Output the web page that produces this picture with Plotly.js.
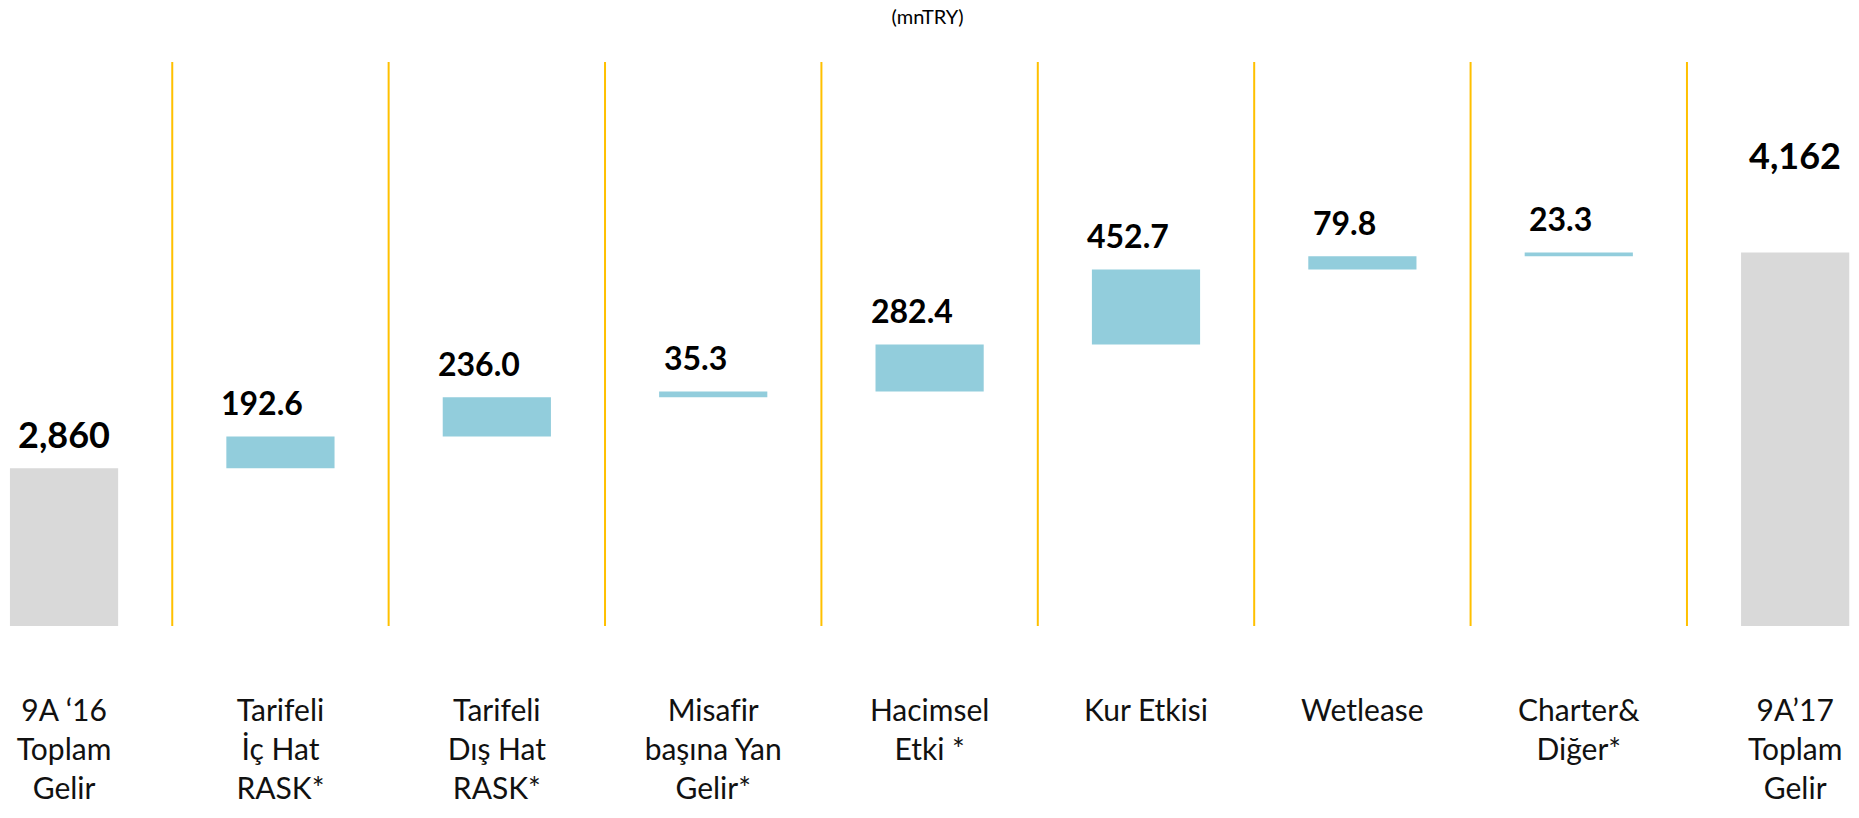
<!DOCTYPE html>
<html>
<head>
<meta charset="utf-8">
<script src="https://cdn.plot.ly/plotly-3.0.1.min.js"></script>
<style>
  html, body { margin: 0; padding: 0; background: #fff; }
  #chart { width: 1859px; height: 818px; }
  #chart text { font-variant-ligatures: none; font-feature-settings: "liga" 0; }
</style>
</head>
<body>
<div id="chart"></div>
<script>
/* Gelir köprüsü 9A'16 -> 9A'17 (mnTRY), waterfall */
var categories = [
  '9A ‘16<br>Toplam<br>Gelir',
  'Tarifeli<br>İç Hat<br>RASK*',
  'Tarifeli<br>Dış Hat<br>RASK*',
  'Misafir<br>başına Yan<br>Gelir*',
  'Hacimsel<br>Etki *',
  'Kur Etkisi',
  'Wetlease',
  'Charter&<br>Diğer*',
  '9A’17<br>Toplam<br>Gelir'
];
var measures = ['absolute', 'relative', 'relative', 'relative', 'relative', 'relative', 'relative', 'relative', 'total'];
var values = [2860, 192.6, 236.0, 35.3, 282.4, 452.7, 79.8, 23.3, 4162];

var GOLD = '#FFC000';
var BLUE = '#92CDDC';
var GREY = '#D9D9D9';

/* etiketler: barların üst noktaları veriden */
var tops = [], run = 0, i;
for (i = 0; i < values.length; i++) {
  if (measures[i] === 'absolute') run = values[i];
  else if (measures[i] === 'relative') run += values[i];
  tops.push(run);
}

function label(i) {
  if (measures[i] === 'relative') return values[i].toFixed(1);
  return values[i].toLocaleString('en-US');
}

var annotations = [];
for (i = 0; i < values.length; i++) {
  var isSum = measures[i] !== 'relative';
  annotations.push({
    x: i, y: tops[i], xref: 'x', yref: 'y',
    text: '<b>' + label(i) + '</b>',
    showarrow: false,
    yanchor: 'middle',
    xshift: isSum ? 0 : -18,
    yshift: measures[i] === 'total' ? 97 : 34,
    font: { family: 'Lato, sans-serif', size: isSum ? 36 : 32, color: '#000' }
  });
}

var trace = {
  type: 'waterfall',
  x: categories.map(function (c, k) { return k; }),
  y: values,
  measure: measures,
  width: 0.5,
  connector: { visible: false },
  increasing: { marker: { color: BLUE } },
  decreasing: { marker: { color: BLUE } },
  totals: { marker: { color: GREY } },
  textinfo: 'none',
  hoverinfo: 'skip',
  cliponaxis: true
};

var layout = {
  width: 1859,
  height: 818,
  margin: { l: 0, r: 0, t: 62, b: 192 },
  paper_bgcolor: '#fff',
  plot_bgcolor: '#fff',
  showlegend: false,
  font: { family: 'Lato, sans-serif', color: '#000' },
  title: {
    text: '(mnTRY)',
    x: 0.499, xanchor: 'center',
    y: 0.979, yanchor: 'middle',
    font: { family: 'Lato, sans-serif', size: 20, color: '#000' }
  },
  xaxis: {
    type: 'linear',
    range: [-0.296, 8.295],
    tickmode: 'array',
    tickvals: categories.map(function (c, k) { return k; }),
    ticktext: categories,
    showgrid: false,
    zeroline: false,
    showline: false,
    ticks: '',
    ticklabelstandoff: 64,
    tickfont: { family: 'Lato, sans-serif', size: 30, color: '#111' },
    fixedrange: true
  },
  yaxis: {
    range: [1908.6, 5311.3],
    visible: false,
    showgrid: false,
    zeroline: false,
    fixedrange: true
  },
  shapes: categories.slice(1).map(function (c, k) {
    return {
      type: 'line', xref: 'x', yref: 'paper',
      x0: k + 0.5, x1: k + 0.5, y0: 0, y1: 1,
      line: { color: GOLD, width: 2 }
    };
  }),
  annotations: annotations
};

Plotly.newPlot('chart', [trace], layout, { displayModeBar: false, staticPlot: true });
</script>
</body>
</html>
